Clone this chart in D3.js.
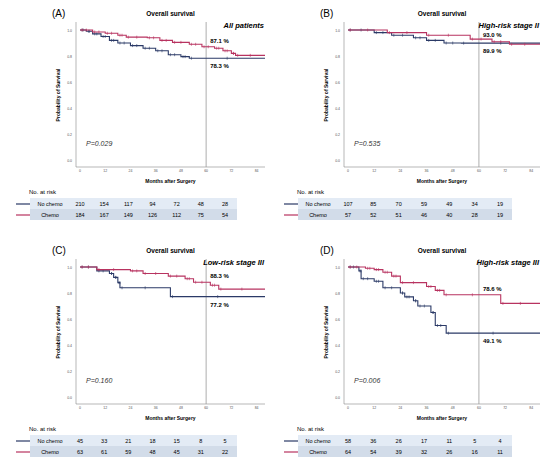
<!DOCTYPE html>
<html><head><meta charset="utf-8">
<script src="https://cdn.jsdelivr.net/npm/d3@7"></script>
<style>body{margin:0;background:#fff}text{font-family:"Liberation Sans",Arial,sans-serif}</style>
</head><body><svg id="c" width="560" height="474"></svg>
<script>
const xTicks=[0,12,24,36,48,60,72,84];
const yTicks=[0,0.2,0.4,0.6,0.8,1.0];
const riskTimes=[0,12,24,36,48,60,72];
// step curves [month, survival]
const aNo=[[0,1],[3,0.99],[6,0.97],[10,0.95],[14,0.92],[18,0.9],[24,0.88],[30,0.86],[36,0.84],[42,0.81],[48,0.795],[52,0.783],[88,0.783]];
const aCh=[[0,1],[6,0.985],[12,0.975],[18,0.96],[22,0.945],[32,0.94],[38,0.92],[44,0.905],[52,0.89],[58,0.871],[64,0.86],[68,0.84],[72,0.82],[74,0.805],[88,0.805]];
const bNo=[[0,1],[12,0.98],[20,0.96],[30,0.94],[36,0.92],[44,0.9],[52,0.899],[88,0.899]];
const bCh=[[0,1],[18,0.98],[36,0.96],[56,0.93],[66,0.91],[74,0.89],[88,0.89]];
const cNo=[[0,1],[8,0.97],[14,0.95],[16,0.92],[18,0.88],[19,0.84],[43,0.772],[88,0.772]];
const cCh=[[0,1],[8,0.98],[24,0.97],[30,0.95],[42,0.93],[50,0.91],[54,0.883],[62,0.86],[66,0.83],[88,0.83]];
const dNo=[[0,1],[5,0.97],[6,0.91],[12,0.89],[16,0.84],[24,0.8],[26,0.77],[30,0.74],[32,0.7],[38,0.65],[40,0.55],[45,0.491],[88,0.491]];
const dCh=[[0,1],[8,0.99],[12,0.98],[16,0.96],[20,0.93],[24,0.88],[36,0.85],[40,0.82],[44,0.786],[70,0.72],[88,0.72]];
const aRiskNo=[210,154,117,94,72,48,28], aRiskCh=[184,167,149,126,112,75,54];
const bRiskNo=[107,85,70,59,49,34,19], bRiskCh=[57,52,51,46,40,28,19];
const cRiskNo=[45,33,21,18,15,8,5], cRiskCh=[63,61,59,48,45,31,22];
const dRiskNo=[58,36,26,17,11,5,4], dRiskCh=[64,54,39,32,26,16,11];
const panels=[
 {lab:"(A)",title:"All patients",no:aNo,ch:aCh,rn:aRiskNo,rc:aRiskCh,p:"P=0.029",pNo:"78.3 %",pCh:"87.1 %",ox:0,oy:0,l:76,r:265},
 {lab:"(B)",title:"High-risk stage II",no:bNo,ch:bCh,rn:bRiskNo,rc:bRiskCh,p:"P=0.535",pNo:"89.9 %",pCh:"93.0 %",ox:280,oy:0,l:64,r:260},
 {lab:"(C)",title:"Low-risk stage III",no:cNo,ch:cCh,rn:cRiskNo,rc:cRiskCh,p:"P=0.160",pNo:"77.2 %",pCh:"88.3 %",ox:0,oy:237,l:76,r:265},
 {lab:"(D)",title:"High-risk stage III",no:dNo,ch:dCh,rn:dRiskNo,rc:dRiskCh,p:"P=0.006",pNo:"49.1 %",pCh:"78.6 %",ox:280,oy:237,l:64,r:260}
];
const NAVY="#2b3a67",RED="#b83360";
const svg=d3.select("#c");
panels.forEach(P=>{
 const g=svg.append("g").attr("transform",`translate(${P.ox},${P.oy})`);
 const x=d3.scaleLinear().domain([0,88]).range([P.l+4,P.r]);
 const y=d3.scaleLinear().domain([0,1]).range([160,30]);
 g.append("text").attr("x",P.l-24).attr("y",17).attr("font-size",10).text(P.lab);
 g.append("text").attr("x",(P.l+P.r)/2).attr("y",16).attr("font-size",6.5).attr("font-weight","bold").attr("text-anchor","middle").text("Overall survival");
 g.append("line").attr("x1",P.l).attr("x2",P.l).attr("y1",22).attr("y2",167).attr("stroke","#888").attr("stroke-width",0.6);
 g.append("line").attr("x1",P.l).attr("x2",P.r).attr("y1",167).attr("y2",167).attr("stroke","#888").attr("stroke-width",0.6);
 yTicks.forEach(t=>{g.append("text").attr("x",P.l-4).attr("y",y(t)+1.5).attr("font-size",3.5).attr("text-anchor","end").attr("fill","#555").text(t.toFixed(1));});
 xTicks.forEach(t=>{g.append("text").attr("x",x(t)).attr("y",172).attr("font-size",3.5).attr("text-anchor","middle").attr("fill","#555").text(t);});
 g.append("text").attr("transform",`translate(${P.l-16},95) rotate(-90)`).attr("font-size",5).attr("font-weight","bold").attr("text-anchor","middle").text("Probability of Survival");
 g.append("text").attr("x",(P.l+P.r)/2).attr("y",183).attr("font-size",5).attr("font-weight","bold").attr("text-anchor","middle").text("Months after Surgery");
 g.append("line").attr("x1",x(60)).attr("x2",x(60)).attr("y1",22).attr("y2",167).attr("stroke","#999").attr("stroke-width",0.8);
 g.append("text").attr("x",P.r-1).attr("y",28).attr("font-size",7.5).attr("font-weight","bold").attr("font-style","italic").attr("text-anchor","end").text(P.title);
 const line=d3.line().x(d=>x(d[0])).y(d=>y(d[1])).curve(d3.curveStepAfter);
 [[P.no,NAVY],[P.ch,RED]].forEach(([d,c])=>{
  g.append("path").attr("d",line(d)).attr("fill","none").attr("stroke",c).attr("stroke-width",1.1);
  d.forEach((pt,i)=>{ if(i<d.length-1){ const mid=(pt[0]+d[i+1][0])/2; [pt[0]+1,mid].forEach(m=>g.append("line").attr("x1",x(m)).attr("x2",x(m)).attr("y1",y(pt[1])-1.5).attr("y2",y(pt[1])+1.5).attr("stroke",c).attr("stroke-width",0.6));}});
 });
 const vNo=P.no.filter(d=>d[0]<=60).pop()[1], vCh=P.ch.filter(d=>d[0]<=60).pop()[1];
 g.append("text").attr("x",x(60)+4).attr("y",Math.max(37,y(vCh)-4)).attr("font-size",6).attr("font-weight","bold").text(P.pCh);
 g.append("text").attr("x",x(60)+4).attr("y",y(vNo)+10).attr("font-size",6).attr("font-weight","bold").text(P.pNo);
 g.append("text").attr("x",P.l+10).attr("y",146).attr("font-size",7).attr("font-style","italic").attr("fill","#333").text(P.p);
 const tl=P.l-46, tr=P.r-28;
 g.append("text").attr("x",tl-1).attr("y",194).attr("font-size",6).text("No. at risk");
 const tx=d3.scalePoint().domain(riskTimes).range([tl+50,tr-12]);
 [[P.rn,"No chemo",NAVY,"#e3ebf5",198],[P.rc,"Chemo",RED,"#d2dce9",209]].forEach(([vals,name,c,bg,ty])=>{
  g.append("rect").attr("x",tl).attr("y",ty).attr("width",tr-tl).attr("height",11).attr("fill",bg);
  g.append("line").attr("x1",tl-14).attr("x2",tl).attr("y1",ty+6).attr("y2",ty+6).attr("stroke",c).attr("stroke-width",1.2);
  g.append("text").attr("x",tl+20).attr("y",ty+8).attr("font-size",5.5).attr("text-anchor","middle").text(name);
  vals.forEach((v,i)=>g.append("text").attr("x",tx(riskTimes[i])).attr("y",ty+8).attr("font-size",5.5).attr("text-anchor","middle").text(v));
 });
});
</script></body></html>
